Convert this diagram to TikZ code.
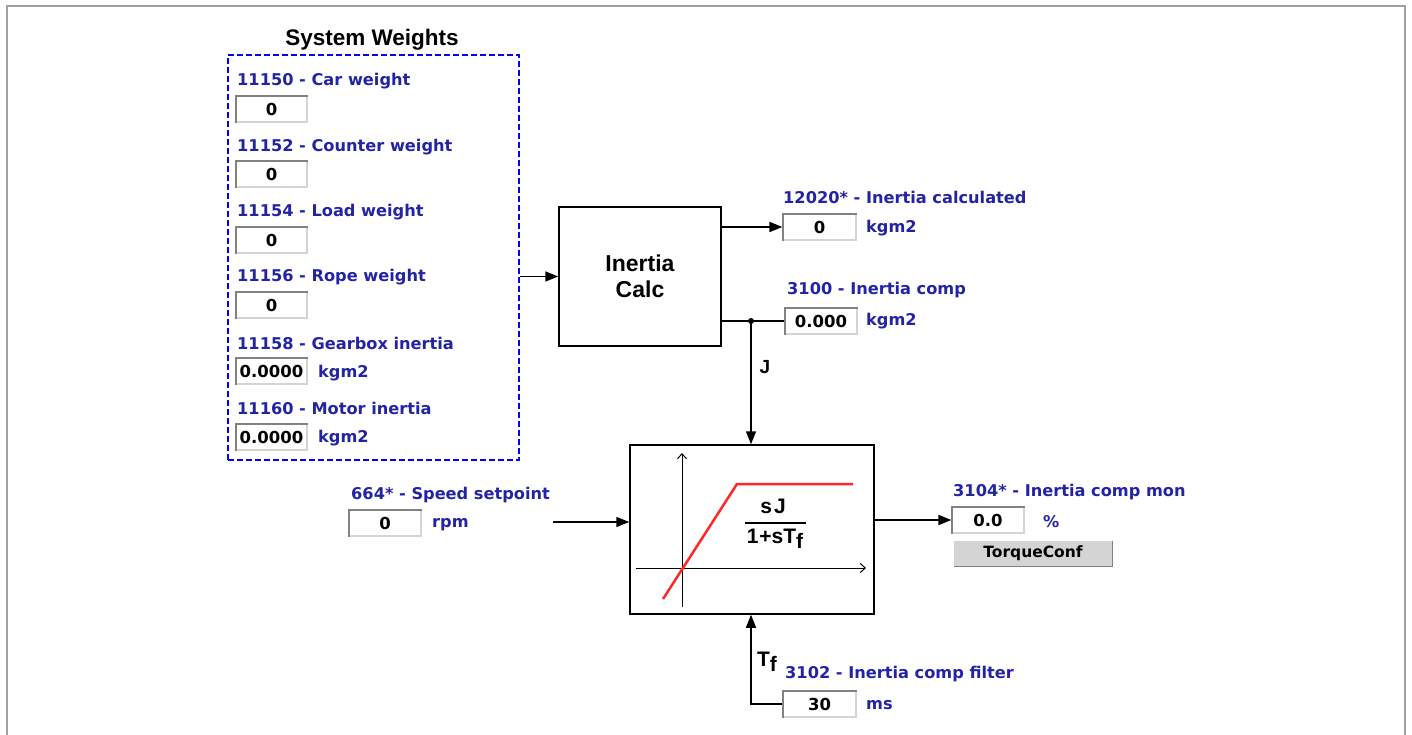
\documentclass[tikz,border=0pt]{standalone}
\usepackage{fontspec}
\setmainfont{DejaVu Sans}
\newfontfamily\arialf{Liberation Sans}
\usetikzlibrary{arrows.meta}
\definecolor{lblue}{RGB}{35,35,165}
\definecolor{boxdark}{RGB}{130,130,130}
\definecolor{boxlight}{RGB}{212,212,212}
\definecolor{frame}{RGB}{160,160,160}
\definecolor{curve}{RGB}{255,40,40}
\tikzset{
  lbl/.style={anchor=west, inner sep=0pt, text=lblue, font=\fontsize{16.2}{19}\selectfont\bfseries},
  val/.style={draw=boxlight, line width=1.2pt, fill=white, minimum height=26pt, inner sep=0pt, font=\fontsize{16.5}{19}\selectfont\bfseries},
  ttl/.style={inner sep=0pt, font=\arialf\fontsize{22.5}{26}\selectfont\bfseries},
  blk/.style={draw, line width=1.5pt, inner sep=0pt},
  arr/.style={-{Triangle[length=13pt,width=10pt]}, line width=1.5pt},
  wire/.style={line width=1.5pt},
  axis/.style={-{Straight Barb[length=5pt,width=9pt]}, line width=1pt},
}
\newcommand\valbox[4]{%
  \node[val, minimum width=#3] (#1) at (#2) {#4};
  \draw[boxdark, line width=2pt] ([xshift=1pt]#1.south west) |- ([yshift=-1pt]#1.north east);
}
\begin{document}
\begin{tikzpicture}[x=1pt,y=-1pt]
\useasboundingbox (0,0) rectangle (1412,735);
% outer frame
\draw[frame, line width=2pt] (7,735) -- (7,6) -- (1405,6) -- (1405,735);

% system weights group
\node[ttl] (swt) at (372,40) {System Weights};
\node[draw=blue, line width=2.5pt, dash pattern=on 6pt off 3pt, minimum width=291pt, minimum height=405pt, inner sep=0pt] (sw) at (373.5,257.5) {};
\node[lbl] (l1) at (237,81) {11150 - Car weight};
\valbox{b1}{271.5,109}{71pt}{0}
\node[lbl] (l2) at (237,147) {11152 - Counter weight};
\valbox{b2}{271.5,174}{71pt}{0}
\node[lbl] (l3) at (237,212) {11154 - Load weight};
\valbox{b3}{271.5,240}{71pt}{0}
\node[lbl] (l4) at (237,277) {11156 - Rope weight};
\valbox{b4}{271.5,305}{71pt}{0}
\node[lbl] (l5) at (237,343) {11158 - Gearbox inertia};
\valbox{b5}{271.5,371}{71pt}{0.0000}
\node[lbl] (u5) at (318,373) {kgm2};
\node[lbl] (l6) at (237,408) {11160 - Motor inertia};
\valbox{b6}{271.5,437}{71pt}{0.0000}
\node[lbl] (u6) at (318,438) {kgm2};

% inertia calc block
\node[blk, minimum width=162pt, minimum height=139pt, align=center, font=\arialf\fontsize{23}{26}\selectfont\bfseries] (calc) at (640,276.5) {Inertia\\Calc};
\draw[arr] (sw.east |- calc) -- (calc.west);

% inertia calculated
\node[lbl] (lic) at (783,197) {12020* - Inertia calculated};
\valbox{ic}{819.5,227}{73pt}{0}
\node[lbl] (uic) at (866,228) {kgm2};
\draw[arr] (calc.east |- ic) -- (ic.west);

% inertia comp
\node[lbl] (lcomp) at (787,290) {3100 - Inertia comp};
\valbox{comp}{821,321}{72pt}{0.000}
\node[lbl] (ucomp) at (866,321) {kgm2};
\coordinate (jdot) at (751,321);
\draw[wire] (calc.east |- comp) -- (comp.west);
\fill (jdot) circle (3pt);

% transfer block
\node[blk, minimum width=244pt, minimum height=169pt] (tf) at (752,529.5) {};
\draw[arr] (jdot) -- (jdot |- tf.north);
\node[inner sep=0pt, font=\arialf\fontsize{19}{21}\selectfont\bfseries] (jl) at (765,367) {J};
% inner graph
\draw[axis] (682,607) -- (682,453);
\draw[axis] (636,568) -- (866,568);
\draw[curve, line width=2.5pt] (663,599) -- (737,484) -- (853,484);
\node[inner sep=0pt, font=\arialf\fontsize{21}{24}\selectfont\bfseries] (num) at (773,506) {s\kern2pt J};
\draw[line width=1.5pt] (745,523) -- (806,523);
\node[inner sep=0pt, font=\arialf\fontsize{21}{24}\selectfont\bfseries] (den) at (775,539) {1\kern1pt+sT\raisebox{-5pt}{f}};

% speed setpoint
\node[lbl] (lsp) at (351,495) {664* - Speed setpoint};
\valbox{sp}{385,523}{72pt}{0}
\node[lbl] (usp) at (432,525) {rpm};
\coordinate (spin) at (553,522);
\draw[arr] (spin) -- (spin -| tf.west);

% output
\node[lbl] (lout) at (953,492) {3104* - Inertia comp mon};
\valbox{out}{988,520}{72pt}{0.0}
\node[lbl] (uout) at (1043,522) {\%};
\draw[arr] (tf.east |- out) -- (out.west);
\node[fill=boxlight, draw=boxlight, line width=1pt, minimum width=158pt, minimum height=25pt, inner sep=0pt, font=\fontsize{15.5}{18}\selectfont\bfseries] (btn) at (1033,553.5) {TorqueConf};
\draw[boxdark, line width=1.5pt] (btn.south west) -| (btn.north east);

% filter
\node[lbl] (lf) at (785,674) {3102 - Inertia comp filter};
\valbox{filt}{819.5,704}{73pt}{30}
\node[lbl] (uf) at (866,705) {ms};
\coordinate (fc) at (751,704);
\draw[arr] (filt.west) -- (fc) -- (fc |- tf.south);
\node[inner sep=0pt, font=\arialf\fontsize{21}{24}\selectfont\bfseries] (tfl) at (767,662) {T\raisebox{-5pt}{f}};
\end{tikzpicture}
\end{document}
